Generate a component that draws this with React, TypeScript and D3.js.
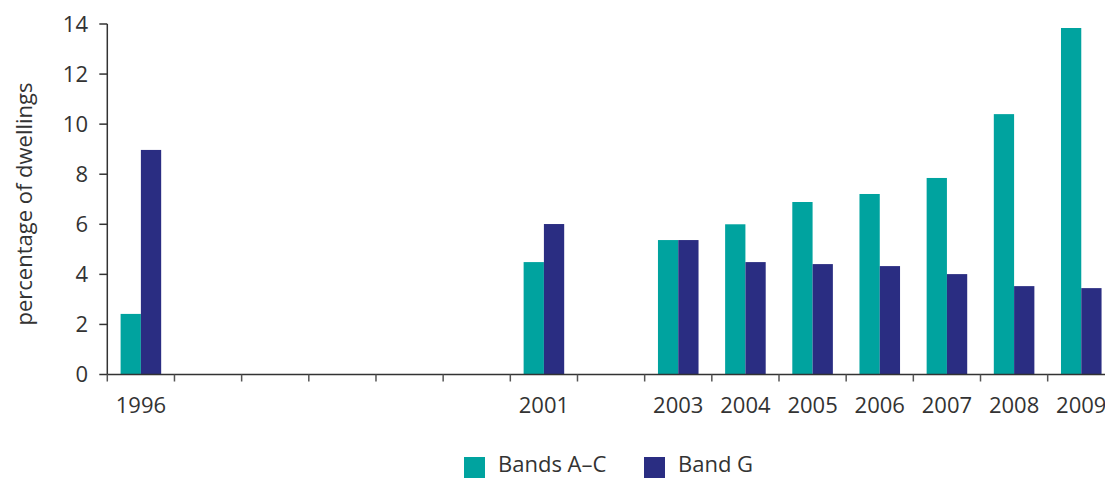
import React from "react";
import * as d3 from "d3";

const categories = ["1996", "", "", "", "", "", "2001", "", "2003", "2004", "2005", "2006", "2007", "2008", "2009"];
const bandsAC: (number | null)[] = [2.42, null, null, null, null, null, 4.49, null, 5.37, 6.0, 6.89, 7.21, 7.85, 10.4, 13.84];
const bandG: (number | null)[] = [8.97, null, null, null, null, null, 6.01, null, 5.37, 4.49, 4.41, 4.33, 4.01, 3.53, 3.45];
const seriesNames = ["Bands A–C", "Band G"];
const colors = ["#00A39F", "#2A2D82"];
const yTicks = [0, 2, 4, 6, 8, 10, 12, 14];

export default function App() {
  const W = 1105, H = 479;
  const x0 = 107.3, bw = 67.17;
  const idx = categories.map((_, i) => String(i));
  const x = d3.scaleBand<string>().domain(idx).range([x0, x0 + bw * categories.length]).paddingInner(0).paddingOuter(0);
  const xs = d3.scaleBand<string>().domain(["0", "1"]).range([13.3, x.bandwidth() - 13.3]).padding(0);
  const y = d3.scaleLinear().domain([0, 14]).range([374.5, 24]);
  const font = "'Open Sans', sans-serif";
  const textColor = "#333";
  const series = [bandsAC, bandG];
  return (
    <svg width={W} height={H} style={{ position: "absolute", left: 0, top: 0 }} fontFamily={font}>
      {series.map((vals, s) =>
        vals.map((v, i) =>
          v == null ? null : (
            <rect key={`${s}-${i}`} x={(x(String(i)) as number) + (xs(String(s)) as number)} y={y(v)}
              width={xs.bandwidth()} height={y(0) - y(v)} fill={colors[s]} />
          )
        )
      )}
      {/* y axis */}
      <line x1={x0} x2={x0} y1={y(14)} y2={y(0)} stroke="#333" strokeWidth={1.5} />
      {yTicks.map((t) => (
        <g key={t}>
          <line x1={x0 - 8} x2={x0} y1={y(t)} y2={y(t)} stroke="#333" strokeWidth={1.5} />
          <text x={88} y={y(t)} dy="0.36em" textAnchor="end" fontSize={22} fill={textColor}>{t}</text>
        </g>
      ))}
      {/* x axis */}
      <line x1={x0} x2={W} y1={y(0)} y2={y(0)} stroke="#333" strokeWidth={1.5} />
      {idx.map((k) => (
        <line key={k} x1={x(k) as number} x2={x(k) as number} y1={y(0)} y2={y(0) + 7} stroke="#555" strokeWidth={1.5} />
      ))}
      {categories.map((c, i) => (
        <text key={i} x={(x(String(i)) as number) + x.bandwidth() / 2} y={413} textAnchor="middle" fontSize={22} fill={textColor}>{c}</text>
      ))}
      <text transform={`translate(32,204) rotate(-90)`} textAnchor="middle" fontSize={22} fill={textColor}>percentage of dwellings</text>
      {/* legend */}
      {seriesNames.map((n, s) => {
        const lx = s === 0 ? 464 : 644;
        return (
          <g key={n}>
            <rect x={lx} y={457} width={21} height={21} fill={colors[s]} />
            <text x={lx + 34} y={472} fontSize={22} fill={textColor}>{n}</text>
          </g>
        );
      })}
    </svg>
  );
}
